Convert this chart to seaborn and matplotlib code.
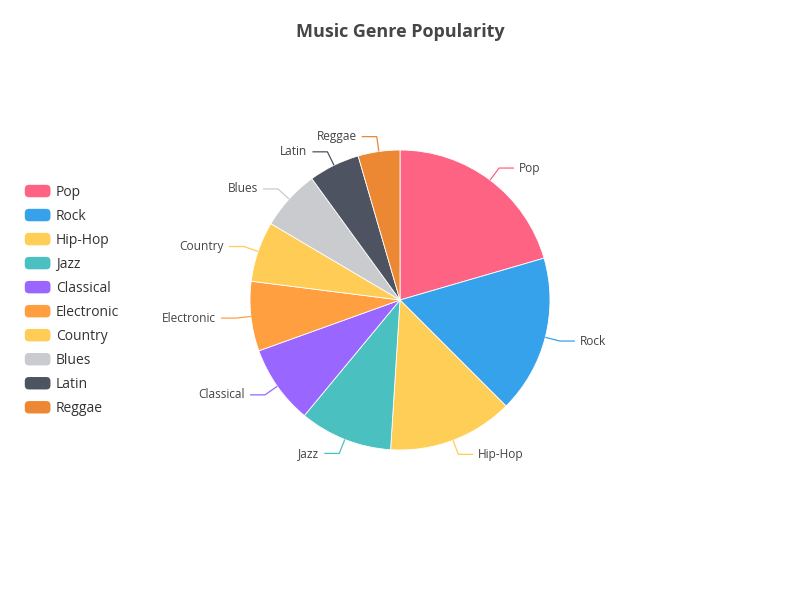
import numpy as np
import matplotlib
matplotlib.use('Agg')
import matplotlib.pyplot as plt
import matplotlib.patches as mpatches
from matplotlib.legend_handler import HandlerPatch
import seaborn as sns

# data
genres = ['Pop', 'Rock', 'Hip-Hop', 'Jazz', 'Classical', 'Electronic',
          'Country', 'Blues', 'Latin', 'Reggae']
popularity = [20.5, 17, 13.5, 10, 8.5, 7.5, 6.5, 6.5, 5.5, 4.5]
colors = ['#ff6384', '#36a2eb', '#ffce56', '#4bc0c0', '#9966ff',
          '#ff9f40', '#ffcd56', '#c9cbcf', '#4d5360', '#ec8833']

sns.set_theme(style='white')
plt.rcParams['font.family'] = ['Open Sans', 'Noto Sans', 'DejaVu Sans']
palette = sns.color_palette(colors)

fig = plt.figure(figsize=(8, 6), dpi=100)
ax = fig.add_axes([0, 0, 1, 1])

cx, cy, r = 400, 300, 150
wedges, _ = ax.pie(popularity, colors=palette, startangle=90, counterclock=False,
                   center=(cx, cy), radius=r, frame=True,
                   wedgeprops=dict(edgecolor='white', linewidth=0.6))
ax.set_xlim(0, 800)
ax.set_ylim(0, 600)
ax.set_aspect('equal')
ax.axis('off')

# label lines: radial piece then horizontal piece (echarts style)
for w, name, col in zip(wedges, genres, colors):
    mid = np.deg2rad((w.theta1 + w.theta2) / 2)
    x0, y0 = cx + r * np.cos(mid), cy + r * np.sin(mid)
    x1, y1 = cx + (r + 15) * np.cos(mid), cy + (r + 15) * np.sin(mid)
    side = 1 if np.cos(mid) >= 0 else -1
    x2 = x1 + side * 15
    ax.plot([x0, x1, x2], [y0, y1, y1], color=col, lw=0.9, solid_capstyle='butt')
    ax.text(x2 + side * 5, y1, name, ha='left' if side > 0 else 'right',
            va='center', fontsize=8.6, color='#444444')

fig.text(0.5, 1 - 32 / 600, 'Music Genre Popularity', ha='center', va='center',
         fontsize=13, fontweight='bold', color='#464646')


class RoundBoxHandler(HandlerPatch):
    def create_artists(self, legend, orig_handle, xdescent, ydescent,
                       width, height, fontsize, trans):
        p = mpatches.FancyBboxPatch((-xdescent, -ydescent), width, height,
                                    boxstyle='round,pad=0,rounding_size=3',
                                    facecolor=orig_handle.get_facecolor(),
                                    edgecolor='none', transform=trans)
        return [p]


handles = [mpatches.Patch(facecolor=c, label=g) for g, c in zip(genres, palette)]
leg = fig.legend(handles=handles, loc='upper left', bbox_to_anchor=(22 / 800, 1 - 182 / 600),
                 frameon=False, fontsize=10, labelcolor='#333333',
                 handlelength=1.85, handleheight=1.0, handletextpad=0.4,
                 labelspacing=0.65, borderaxespad=0, borderpad=0.2,
                 handler_map={mpatches.Patch: RoundBoxHandler()})

fig.savefig('out.png', dpi=100, facecolor='white')
